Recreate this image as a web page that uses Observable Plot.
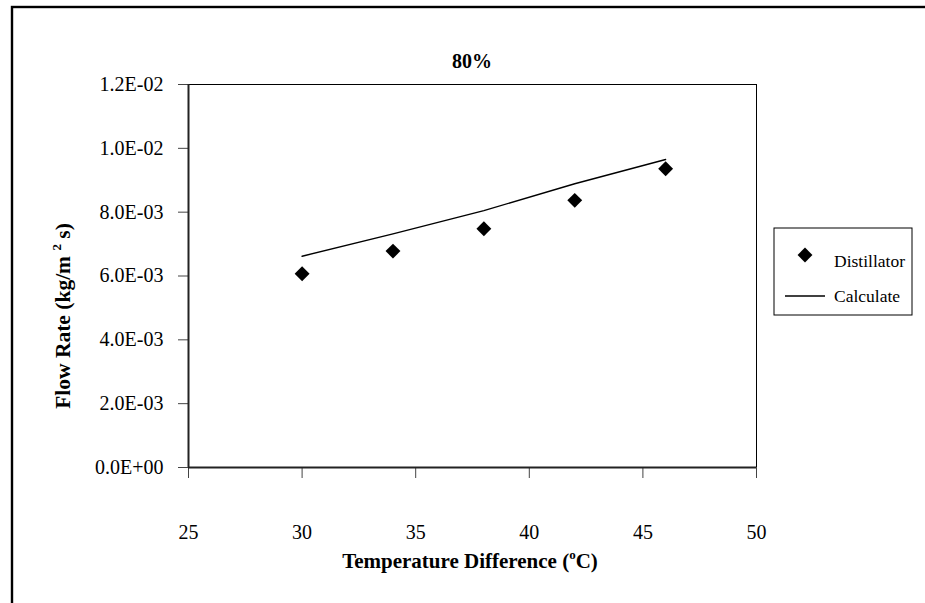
<!DOCTYPE html>
<html><head><meta charset="utf-8">
<script src="https://cdn.jsdelivr.net/npm/d3@7"></script>
<script src="https://cdn.jsdelivr.net/npm/@observablehq/plot@0.6"></script>
<style>
body{margin:0;background:#fff;}
#chart svg{font-family:"Liberation Serif","Times New Roman",serif;}
</style>
</head><body><div id="chart"></div>
<script>
const tempDiff = [30, 34, 38, 42, 46];
const distillator = [6.07e-3, 6.78e-3, 7.48e-3, 8.37e-3, 9.36e-3];
const calculate = [6.62e-3, 7.32e-3, 8.05e-3, 8.89e-3, 9.65e-3];
const xTicks = [25, 30, 35, 40, 45, 50];
const yTicks = [0, 0.002, 0.004, 0.006, 0.008, 0.010, 0.012];
const yTickLabels = ["0.0E+00", "2.0E-03", "4.0E-03", "6.0E-03", "8.0E-03", "1.0E-02", "1.2E-02"];
const seriesNames = ["Distillator", "Calculate"];
const chartTitle = "80%";

const pts = tempDiff.map((t, i) => ({t, v: distillator[i]}));
const calc = tempDiff.map((t, i) => ({t, v: calculate[i]}));

const ff = '"Liberation Serif","Times New Roman",serif';
const W = 925, H = 603;
const chart = Plot.plot({
  width: W, height: H,
  marginLeft: 188, marginRight: 169, marginTop: 84, marginBottom: 136,
  style: {fontFamily: ff, fontSize: "20px", color: "#000", background: "#fff"},
  x: {domain: [25, 50], axis: null},
  y: {domain: [0, 0.012], axis: null},
  marks: [
    Plot.frame({stroke: "#000", strokeWidth: 1}),
    Plot.axisX({ticks: xTicks, label: null, tickSize: 11, tickPadding: 46, tickFormat: d => String(d), stroke: "#444", fill: "#000", fontSize: 20}),
    Plot.axisY({ticks: yTicks, label: null, tickSize: 10, tickPadding: 15, tickFormat: d => yTickLabels[yTicks.indexOf(d)] ?? "", stroke: "#444", fill: "#000", fontSize: 20}),
    Plot.ruleX([25], {stroke: "#222", strokeWidth: 2}),
    Plot.ruleY([0], {stroke: "#222", strokeWidth: 2}),
    Plot.line(calc, {x: "t", y: "v", stroke: "#000", strokeWidth: 1.4}),
    Plot.dot(pts, {x: "t", y: "v", symbol: "diamond2", r: 6.7, fill: "#000", stroke: "none"})
  ]
});
document.getElementById("chart").appendChild(chart);

const svg = d3.select(chart);
// outer chart border (only top and left edges fall inside the picture)
svg.append("rect").attr("x", 12).attr("y", 7).attr("width", 940).attr("height", 620)
  .attr("fill", "none").attr("stroke", "#000").attr("stroke-width", 2.4);

// title
svg.append("text").attr("x", 472).attr("y", 68).attr("text-anchor", "middle")
  .attr("font-family", ff).attr("font-size", 20).attr("font-weight", "bold").text(chartTitle);

// x axis title
const xt = svg.append("text").attr("x", 470).attr("y", 568).attr("text-anchor", "middle")
  .attr("font-family", ff).attr("font-size", 21).attr("font-weight", "bold");
xt.append("tspan").text("Temperature Difference (");
xt.append("tspan").attr("dy", -9).attr("font-size", 13).text("o");
xt.append("tspan").attr("dy", 9).text("C)");

// y axis title
const yt = svg.append("text").attr("transform", "translate(70,316) rotate(-90)").attr("text-anchor", "middle")
  .attr("font-family", ff).attr("font-size", 21.5).attr("font-weight", "bold");
yt.append("tspan").text("Flow Rate (kg/m ");
yt.append("tspan").attr("dy", -9).attr("font-size", 13).text("2");
yt.append("tspan").attr("dy", 9).text(" s)");

// legend
const lg = svg.append("g").attr("text-anchor", "start");
lg.append("rect").attr("x", 774).attr("y", 228).attr("width", 138).attr("height", 87)
  .attr("fill", "#fff").attr("stroke", "#000").attr("stroke-width", 1);
lg.append("path").attr("d", d3.symbol(d3.symbolDiamond2, Math.PI * 6.7 * 6.7)()).attr("transform", "translate(805,255)").attr("fill", "#000");
lg.append("text").attr("x", 834).attr("y", 267).attr("font-family", ff).attr("font-size", 17.5).text(seriesNames[0]);
lg.append("line").attr("x1", 785).attr("x2", 825).attr("y1", 296).attr("y2", 296).attr("stroke", "#000").attr("stroke-width", 1.4);
lg.append("text").attr("x", 834).attr("y", 302).attr("font-family", ff).attr("font-size", 17.5).text(seriesNames[1]);
</script>
</body></html>
